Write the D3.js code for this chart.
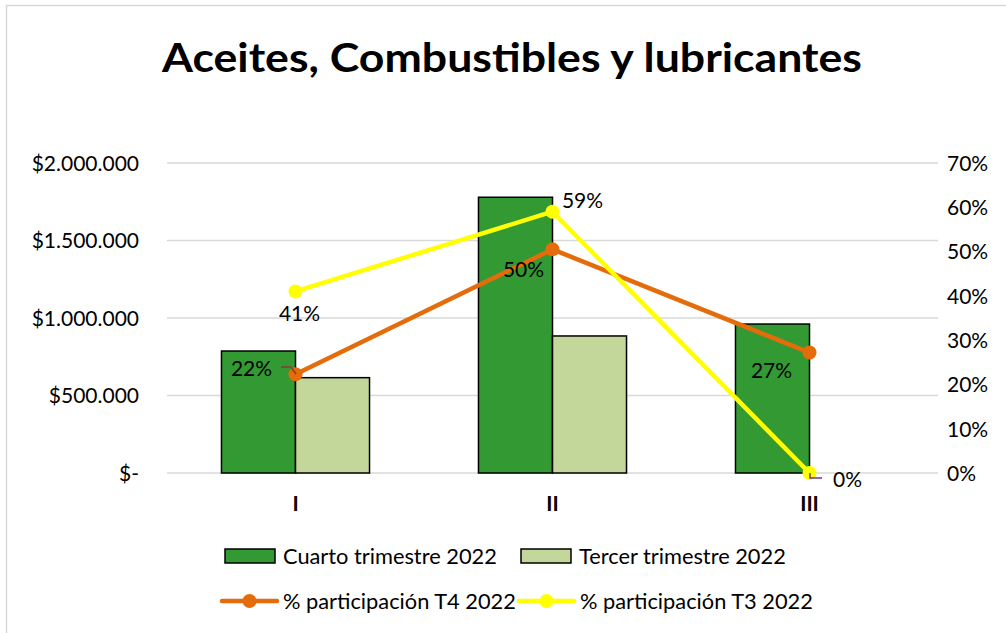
<!DOCTYPE html>
<html>
<head>
<meta charset="utf-8">
<title>Aceites, Combustibles y lubricantes</title>
<script src="https://cdn.jsdelivr.net/npm/d3@7"></script>
<style>
  body { margin: 0; background: #fff; }
  text { font-family: Lato, "Open Sans", sans-serif; fill: #000; }
</style>
</head>
<body>
<script>
// chart data
var categories = ["I", "II", "III"];
var seriesNames = ["Cuarto trimestre 2022", "Tercer trimestre 2022"];
var cuarto = [787000, 1779000, 961000];
var tercer = [615000, 884000, 0];
var pctT4 = [0.223, 0.505, 0.272];
var pctT3 = [0.41, 0.59, 0];
var pctLabelsT4 = ["22%", "50%", "27%"];
var pctLabelsT3 = ["41%", "59%", "0%"];
var leftTicks = [0, 500000, 1000000, 1500000, 2000000];
var rightTicks = [0, 0.1, 0.2, 0.3, 0.4, 0.5, 0.6, 0.7];

var W = 1006, H = 633;
var plot = {left: 167, right: 938, top: 163, bottom: 473};
var fs = 21;

var svg = d3.select("body").append("svg").attr("width", W).attr("height", H);

// frame
svg.append("rect").attr("x", 6.5).attr("y", 5.5).attr("width", W + 10).attr("height", H + 10)
  .attr("fill", "#fff").attr("stroke", "#d9d9d9").attr("stroke-width", 1.5);

svg.append("text").attr("x", 512).attr("y", 72).attr("text-anchor", "middle")
  .attr("font-size", 40).attr("font-weight", "bold")
  .attr("textLength", 700).attr("lengthAdjust", "spacingAndGlyphs")
  .text("Aceites, Combustibles y lubricantes");

var x = d3.scaleBand().domain(categories).range([plot.left, plot.right]).paddingInner(0).paddingOuter(0);
var xs = d3.scaleBand().domain([0, 1]).range([0, x.bandwidth()]).paddingInner(0).paddingOuter(0.736);
var y = d3.scaleLinear().domain([0, 2000000]).range([plot.bottom, plot.top]);
var y2 = d3.scaleLinear().domain([0, 0.7]).range([plot.bottom, plot.top]);

// gridlines
svg.append("g").selectAll("line").data(leftTicks).enter().append("line")
  .attr("x1", plot.left).attr("x2", plot.right)
  .attr("y1", function(d) { return y(d); }).attr("y2", function(d) { return y(d); })
  .attr("stroke", "#d9d9d9").attr("stroke-width", 1.5);

// left axis
var fmt = function(d) {
  if (d === 0) return "$-";
  return "$" + d3.format(",")(d).replace(/,/g, ".");
};
var gl = svg.append("g").attr("transform", "translate(" + 139 + ",0)")
  .call(d3.axisLeft(y).tickValues(leftTicks).tickFormat(fmt).tickSize(0).tickPadding(0));
gl.select(".domain").remove();
gl.selectAll("text").attr("font-size", fs).attr("font-family", "Lato, sans-serif").attr("dy", "0.35em");

// right axis
var gr = svg.append("g").attr("transform", "translate(" + 947 + ",0)")
  .call(d3.axisRight(y2).tickValues(rightTicks).tickFormat(d3.format(".0%")).tickSize(0).tickPadding(0));
gr.select(".domain").remove();
gr.selectAll("text").attr("font-size", fs).attr("font-family", "Lato, sans-serif").attr("dy", "0.35em");

// category axis
svg.append("g").selectAll("text").data(categories).enter().append("text")
  .attr("x", function(d) { return x(d) + x.bandwidth() / 2; }).attr("y", 511)
  .attr("text-anchor", "middle").attr("font-size", fs).attr("font-weight", "bold")
  .text(function(d) { return d; });

// bars
var barColors = ["#339933", "#c4d79b"];
var barData = [];
categories.forEach(function(c, i) {
  barData.push({cat: c, s: 0, v: cuarto[i]});
  barData.push({cat: c, s: 1, v: tercer[i]});
});
svg.append("g").selectAll("rect").data(barData.filter(function(d) { return d.v > 0; })).enter().append("rect")
  .attr("x", function(d) { return x(d.cat) + xs(d.s); })
  .attr("y", function(d) { return y(d.v); })
  .attr("width", xs.bandwidth())
  .attr("height", function(d) { return y(0) - y(d.v); })
  .attr("fill", function(d) { return barColors[d.s]; })
  .attr("stroke", "#000").attr("stroke-width", 1.5);

// lines
var cx = function(i) { return x(categories[i]) + x.bandwidth() / 2; };
var line = d3.line().x(function(d, i) { return cx(i); }).y(function(d) { return y2(d); });

function drawLine(vals, color) {
  svg.append("path").datum(vals).attr("d", line).attr("fill", "none")
    .attr("stroke", color).attr("stroke-width", 4.5).attr("stroke-linejoin", "round");
  svg.append("g").selectAll("circle").data(vals).enter().append("circle")
    .attr("cx", function(d, i) { return cx(i); }).attr("cy", function(d) { return y2(d); })
    .attr("r", 7).attr("fill", color);
}
drawLine(pctT4, "#e46c0a");
drawLine(pctT3, "#ffff00");

// leader lines
svg.append("path").attr("d", "M281,367 L291,367 L296,374").attr("fill", "none").attr("stroke", "#953735").attr("stroke-width", 1.5);
svg.append("path").attr("d", "M810,473 L810,478 L822,478").attr("fill", "none").attr("stroke", "#7030a0").attr("stroke-width", 1.5);

// data labels
var labOffT4 = [[-44, -6], [-29, 20], [-38, 18]];
var labOffT3 = [[4, 22], [30, -11], [38, 7]];
function labels(vals, labs, offs) {
  svg.append("g").selectAll("text").data(vals).enter().append("text")
    .attr("x", function(d, i) { return cx(i) + offs[i][0]; })
    .attr("y", function(d, i) { return y2(d) + offs[i][1]; })
    .attr("text-anchor", "middle").attr("dy", "0.35em").attr("font-size", fs)
    .text(function(d, i) { return labs[i]; });
}
labels(pctT4, pctLabelsT4, labOffT4);
labels(pctT3, pctLabelsT3, labOffT3);

// legend
var lfs = 21.8;
var leg = svg.append("g");
var legBars = [{x: 225, y: 556, c: barColors[0], t: seriesNames[0]}, {x: 521, y: 556, c: barColors[1], t: seriesNames[1]}];
legBars.forEach(function(d) {
  leg.append("rect").attr("x", d.x).attr("y", d.y - 7).attr("width", 50).attr("height", 14)
    .attr("fill", d.c).attr("stroke", "#000").attr("stroke-width", 1.5);
  leg.append("text").attr("x", d.x + 58).attr("y", d.y).attr("dy", "0.35em").attr("font-size", lfs).text(d.t);
});
var legLines = [{x: 222, y: 601, c: "#e46c0a", t: "% participación T4 2022"}, {x: 519, y: 601, c: "#ffff00", t: "% participación T3 2022"}];
legLines.forEach(function(d) {
  leg.append("line").attr("x1", d.x).attr("x2", d.x + 55).attr("y1", d.y).attr("y2", d.y)
    .attr("stroke", d.c).attr("stroke-width", 4.5).attr("stroke-linecap", "round");
  leg.append("circle").attr("cx", d.x + 27.5).attr("cy", d.y).attr("r", 7).attr("fill", d.c);
  leg.append("text").attr("x", d.x + 61).attr("y", d.y).attr("dy", "0.35em").attr("font-size", lfs).text(d.t);
});
</script>
</body>
</html>
